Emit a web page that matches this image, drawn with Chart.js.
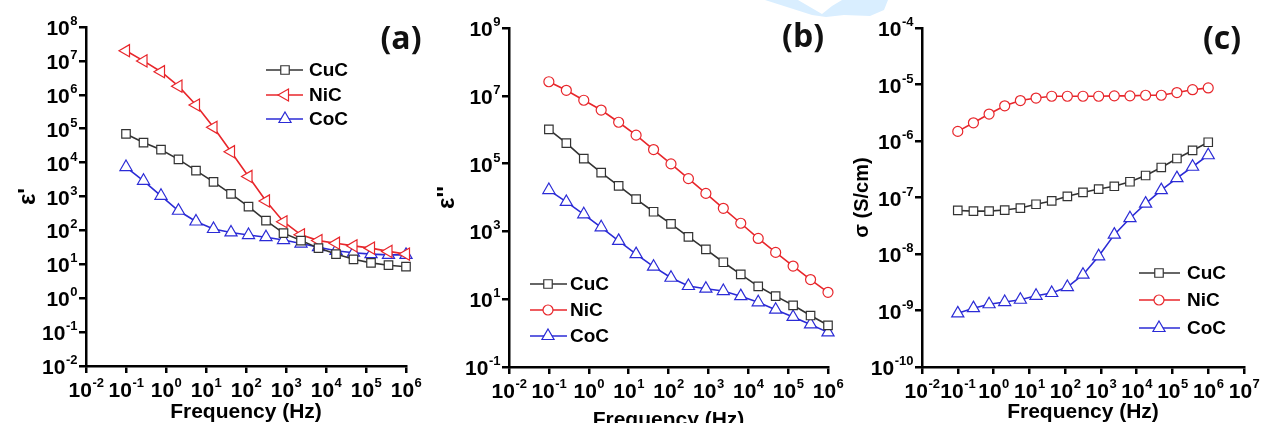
<!DOCTYPE html>
<html>
<head>
<meta charset="utf-8">
<script src="https://cdn.jsdelivr.net/npm/chart.js@4.4.1/dist/chart.umd.min.js"></script>
<style>
  body { margin: 0; width: 1262px; height: 423px; background: #fff; position: relative; overflow: hidden; }
  canvas { position: absolute; top: 0; }
  #mark { position: absolute; left: 760px; top: 0; width: 140px; height: 20px; background: #d9eeff;
          clip-path: polygon(5px 0, 38px 0, 62px 14px, 72px 6px, 82px 0, 128px 0, 124px 10px, 110px 16px, 84px 15px, 66px 17px, 52px 15px); }
</style>
</head>
<body>
<div id="mark"></div>
<canvas id="panelA" width="425" height="423" style="left:0"></canvas>
<canvas id="panelB" width="425" height="423" style="left:425px"></canvas>
<canvas id="panelC" width="412" height="423" style="left:850px"></canvas>
<script>
// frequencies shared by all three panels (Hz)
const freqHz = [0.1, 0.274, 0.75, 2.05, 5.62, 15.4, 42.2, 115.5, 316, 866, 2371, 6494, 17783, 48697, 133352, 365174, 1000000];

// (a) real permittivity
const epsRealCuC = [7.0e4, 3.9e4, 2.4e4, 1.25e4, 5.8e3, 2.7e3, 1.2e3, 500, 195, 83, 50, 30, 20, 14, 11, 9.4, 8.5];
const epsRealNiC = [2.0e7, 1.0e7, 4.8e6, 1.8e6, 5.0e5, 1.1e5, 2.1e4, 3.9e3, 740, 180, 74, 50, 42, 35, 30, 24, 20];
const epsRealCoC = [7.4e3, 2.9e3, 1.05e3, 380, 183, 110, 87, 73, 63, 52, 41, 32, 25, 22, 20, 19, 19];

// (b) imaginary permittivity
const epsImagCuC = [1.02e6, 4.0e5, 1.4e5, 5.4e4, 2.2e4, 8.9e3, 3.8e3, 1.66e3, 690, 295, 123, 54, 24, 12.3, 6.6, 3.3, 1.7];
const epsImagNiC = [2.6e7, 1.45e7, 7.4e6, 3.8e6, 1.66e6, 6.9e5, 2.6e5, 9.8e4, 3.6e4, 1.32e4, 4.8e3, 1.74e3, 620, 240, 95, 38, 16];
const epsImagCoC = [1.66e4, 7.4e3, 3.2e3, 1.32e3, 525, 214, 91, 43, 24.5, 20.4, 17.4, 12.3, 8.1, 4.9, 3.0, 1.8, 1.05];

// (c) ac conductivity (S/cm)
const sigmaCuC = [5.9e-8, 5.75e-8, 5.75e-8, 6.0e-8, 6.5e-8, 7.6e-8, 8.7e-8, 1.05e-7, 1.23e-7, 1.41e-7, 1.58e-7, 1.9e-7, 2.45e-7, 3.4e-7, 4.9e-7, 6.8e-7, 9.5e-7];
const sigmaNiC = [1.48e-6, 2.1e-6, 3.0e-6, 4.2e-6, 5.2e-6, 5.75e-6, 6.2e-6, 6.2e-6, 6.2e-6, 6.2e-6, 6.3e-6, 6.3e-6, 6.45e-6, 6.45e-6, 7.2e-6, 8.1e-6, 8.7e-6];
const sigmaCoC = [8.9e-10, 1.1e-9, 1.29e-9, 1.41e-9, 1.55e-9, 1.82e-9, 2.04e-9, 2.6e-9, 4.3e-9, 9.1e-9, 2.2e-8, 4.3e-8, 7.8e-8, 1.35e-7, 2.2e-7, 3.5e-7, 5.6e-7];

// tick exponents (labels are 10^n)
const xTickExpAB = [-2, -1, 0, 1, 2, 3, 4, 5, 6];
const xTickExpC = [-2, -1, 0, 1, 2, 3, 4, 5, 6, 7];
const yTickExpA = [-2, -1, 0, 1, 2, 3, 4, 5, 6, 7, 8];
const yTickExpB = [-1, 1, 3, 5, 7, 9];
const yTickExpC = [-10, -9, -8, -7, -6, -5, -4];

const BLACK = "#333333", RED = "#e8262b", BLUE = "#2b2bd6";
const FONT = "'Liberation Sans', Arial, sans-serif";

const toPoints = (ys) => ys.map((y, i) => ({ x: freqHz[i], y: y }));

const series = (label, ys, color, style, radius, rotation) => ({
  label: label,
  data: toPoints(ys),
  borderColor: color,
  borderWidth: 1.6,
  pointStyle: style,
  pointRadius: radius,
  pointRotation: rotation || 0,
  pointBorderWidth: 1.2,
  pointBorderColor: color,
  pointBackgroundColor: "#ffffff",
  tension: 0,
  clip: false
});

// draws "10" with a raised exponent; align is "center" or "right"
function drawPow(ctx, exp, x, baseline, align) {
  const base = "10", sup = String(exp);
  ctx.font = "bold 21px " + FONT;
  const wb = ctx.measureText(base).width;
  ctx.font = "bold 13px " + FONT;
  const ws = ctx.measureText(sup).width;
  const x0 = align === "center" ? x - (wb + ws) / 2 : x - wb - ws;
  ctx.textAlign = "left";
  ctx.textBaseline = "alphabetic";
  ctx.font = "bold 21px " + FONT;
  ctx.fillText(base, x0, baseline);
  ctx.font = "bold 13px " + FONT;
  ctx.fillText(sup, x0 + wb + 0.5, baseline - 10);
}

// tick labels, legend inside the plot and the panel letter
const panelDecor = {
  id: "panelDecor",
  afterDraw(chart, args, opts) {
    const ctx = chart.ctx;
    const xs = chart.scales.x, ys = chart.scales.y, area = chart.chartArea;
    ctx.save();
    ctx.fillStyle = "#000";
    xs.ticks.forEach(t => {
      drawPow(ctx, Math.round(Math.log10(t.value)), xs.getPixelForValue(t.value), area.bottom + 31, "center");
    });
    ys.ticks.forEach(t => {
      drawPow(ctx, Math.round(Math.log10(t.value)), area.left - 9, ys.getPixelForValue(t.value) + 8, "right");
    });

    chart.data.datasets.forEach((ds, i) => {
      const y = opts.rows[i];
      ctx.strokeStyle = ds.borderColor;
      ctx.lineWidth = 1.6;
      ctx.beginPath();
      ctx.moveTo(opts.x1, y);
      ctx.lineTo(opts.x2, y);
      ctx.stroke();
      ctx.fillStyle = "#ffffff";
      ctx.lineWidth = 1.2;
      Chart.helpers.drawPoint(ctx, {
        pointStyle: ds.pointStyle, radius: ds.pointRadius, rotation: ds.pointRotation, borderWidth: 1.2
      }, opts.xm, y);
      ctx.fillStyle = "#000";
      ctx.font = "bold 19px " + FONT;
      ctx.textAlign = "left";
      ctx.textBaseline = "middle";
      ctx.fillText(ds.label, opts.tx, y + 1);
    });

    ctx.fillStyle = "#111";
    ctx.font = "bold 32px 'Open Sans', sans-serif";
    ctx.textAlign = "center";
    ctx.textBaseline = "middle";
    ctx.fillText(opts.letter, opts.lx, opts.ly);
    ctx.restore();
  }
};

function makePanel(id, p) {
  const canvas = document.getElementById(id);
  const W = canvas.width, H = canvas.height;
  const tickLabel = (v) => "10^" + Math.round(Math.log10(v));
  return new Chart(canvas, {
    type: "line",
    data: { datasets: p.datasets },
    options: {
      responsive: false,
      animation: false,
      devicePixelRatio: 1,
      layout: { padding: { top: p.area.top, right: W - p.area.right, left: 0, bottom: 0 } },
      plugins: {
        legend: { display: false },
        tooltip: { enabled: false },
        panelDecor: p.decor
      },
      scales: {
        x: {
          type: "logarithmic",
          min: Math.pow(10, p.xExp[0]),
          max: Math.pow(10, p.xExp[p.xExp.length - 1]),
          afterBuildTicks: (s) => { s.ticks = p.xExp.map(e => ({ value: Math.pow(10, e) })); },
          afterFit: (s) => { s.height = H - p.area.bottom; s.paddingLeft = 0; s.paddingRight = 0; },
          grid: { drawOnChartArea: false, drawTicks: true, tickLength: 7, color: "#000", lineWidth: 2.5 },
          border: { display: true, color: "#000", width: 2.5 },
          ticks: { display: false, autoSkip: false, callback: tickLabel },
          title: { display: true, text: "Frequency (Hz)", color: "#000",
                   font: { family: FONT, size: 21, weight: "bold" }, padding: { top: 0, bottom: p.xTitlePad } }
        },
        y: {
          type: "logarithmic",
          min: Math.pow(10, p.yExp[0]),
          max: Math.pow(10, p.yExp[p.yExp.length - 1]),
          afterBuildTicks: (s) => { s.ticks = p.yExp.map(e => ({ value: Math.pow(10, e) })); },
          afterFit: (s) => { s.width = p.area.left; s.paddingTop = 0; s.paddingBottom = 0; },
          grid: { drawOnChartArea: false, drawTicks: true, tickLength: 7, color: "#000", lineWidth: 2.5 },
          border: { display: true, color: "#000", width: 2.5 },
          ticks: { display: false, autoSkip: false, callback: tickLabel },
          title: { display: true, text: p.yTitle, color: "#000",
                   font: { family: FONT, size: p.yTitleSize, weight: "bold" }, padding: { top: p.yTitlePad, bottom: 0 } }
        }
      }
    },
    plugins: [panelDecor]
  });
}

makePanel("panelA", {
  datasets: [
    series("CuC", epsRealCuC, BLACK, "rect", 6, 0),
    series("NiC", epsRealNiC, RED, "triangle", 7, -90),
    series("CoC", epsRealCoC, BLUE, "triangle", 7, 0)
  ],
  xExp: xTickExpAB, yExp: yTickExpA, yTitle: "\u03B5'", yTitleSize: 24,
  area: { left: 86, right: 406, top: 27, bottom: 366 },
  xTitlePad: -2, yTitlePad: 14,
  decor: { x1: 266, x2: 303, xm: 285, tx: 309, rows: [70, 95, 119], letter: "(a)", lx: 401, ly: 40 }
});

makePanel("panelB", {
  datasets: [
    series("CuC", epsImagCuC, BLACK, "rect", 6, 0),
    series("NiC", epsImagNiC, RED, "circle", 5, 0),
    series("CoC", epsImagCoC, BLUE, "triangle", 7, 0)
  ],
  xExp: xTickExpAB, yExp: yTickExpB, yTitle: "\u03B5''", yTitleSize: 24,
  area: { left: 84, right: 403, top: 28, bottom: 367 },
  xTitlePad: -10, yTitlePad: 8,
  decor: { x1: 105, x2: 142, xm: 123, tx: 145, rows: [284, 310, 336], letter: "(b)", lx: 378, ly: 38 }
});

makePanel("panelC", {
  datasets: [
    series("CuC", sigmaCuC, BLACK, "rect", 6, 0),
    series("NiC", sigmaNiC, RED, "circle", 5, 0),
    series("CoC", sigmaCoC, BLUE, "triangle", 7, 0)
  ],
  xExp: xTickExpC, yExp: yTickExpC, yTitle: "\u03C3 (S/cm)", yTitleSize: 20,
  area: { left: 72, right: 394, top: 28, bottom: 367 },
  xTitlePad: -2, yTitlePad: 0,
  decor: { x1: 289, x2: 330, xm: 309, tx: 337, rows: [273, 300, 328], letter: "(c)", lx: 372, ly: 40 }
});
</script>
</body>
</html>
